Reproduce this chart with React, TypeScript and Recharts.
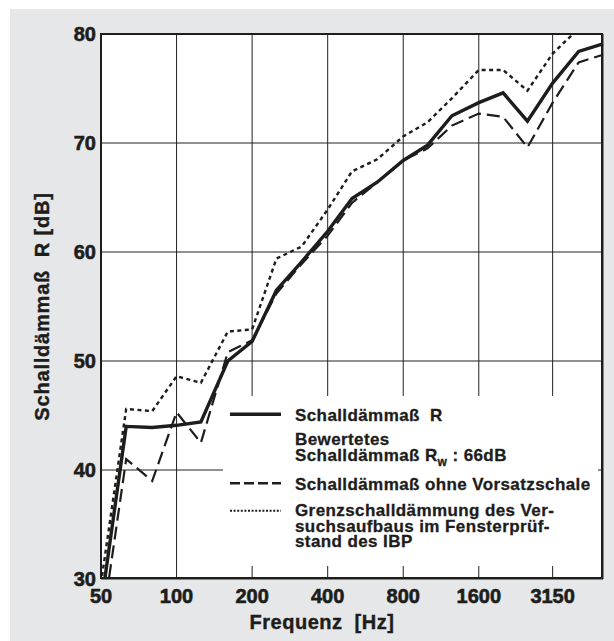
import React from 'react';
import {
  LineChart,
  Line,
  XAxis,
  YAxis,
  CartesianGrid
} from 'recharts';

// third-octave band centre frequencies
const freqs = [50, 63, 80, 100, 125, 160, 200, 250, 315, 400, 500, 630, 800, 1000, 1250, 1600, 2000, 2500, 3150, 4000, 5000];

// Schalldämmaß R (solid)
const schalldaemmass = [27.5, 44.0, 43.9, 44.1, 44.4, 50.0, 51.8, 56.5, 59.1, 61.9, 64.9, 66.4, 68.4, 69.8, 72.5, 73.7, 74.6, 72.0, 75.5, 78.4, 79.1];

// Schalldämmaß ohne Vorsatzschale (dashed)
const ohneVorsatzschale = [25.0, 41.0, 39.0, 45.3, 42.5, 50.8, 51.9, 56.2, 58.9, 61.5, 64.5, 66.4, 68.4, 69.5, 71.6, 72.7, 72.4, 69.6, 73.7, 77.4, 78.1];

// Grenzschalldämmung des Versuchsaufbaus (dotted)
const grenzschalldaemmung = [29.6, 45.6, 45.4, 48.6, 48.0, 52.7, 52.9, 59.4, 60.5, 63.9, 67.4, 68.5, 70.6, 71.9, 74.1, 76.7, 76.7, 74.8, 78.2, 80.5, 82.0];

const xTicks = [50, 100, 200, 400, 800, 1600, 3150];
const yTicks = [30, 40, 50, 60, 70, 80];

const data = freqs.map((f, i) => ({
  f,
  r: schalldaemmass[i],
  ohne: ohneVorsatzschale[i],
  grenz: grenzschalldaemmung[i]
}));

const FONT = '"Liberation Sans", Arial, Helvetica, sans-serif';
const INK = '#1d1d1b';

// heavy labels like the printed original
const tickStyle = { fontSize: 20, fontWeight: 'bold', fill: INK, stroke: INK, strokeWidth: 0.6, fontFamily: FONT };
const axisLabelStyle = { fontSize: 20, fontWeight: 'bold', fill: INK, stroke: INK, strokeWidth: 0.4, fontFamily: FONT };

const legendText: React.CSSProperties = {
  position: 'absolute',
  left: 72,
  fontSize: 17,
  fontWeight: 'bold',
  lineHeight: '15.8px',
  letterSpacing: 0.4,
  color: INK,
  whiteSpace: 'pre',
  fontFamily: FONT,
  WebkitTextStroke: '0.3px ' + INK
};

const ChartLegend = () => (
  <div
    style={{
      position: 'absolute',
      left: 223,
      top: 396,
      width: 375,
      height: 170,
      background: '#fff'
    }}
  >
    <svg width={60} height={130} style={{ position: 'absolute', left: 0, top: 0 }}>
      <line x1={7} x2={58} y1={18.3} y2={18.3} stroke={INK} strokeWidth={3.5} />
      <line x1={7} x2={58} y1={87.3} y2={87.3} stroke={INK} strokeWidth={2.4} strokeDasharray="10 4" />
      <line x1={7} x2={58} y1={114.7} y2={114.7} stroke={INK} strokeWidth={2} strokeDasharray="2 1.6" />
    </svg>
    <div style={{ ...legendText, top: 12.2 }}>Schalldämmaß  R</div>
    <div style={{ ...legendText, top: 36.2 }}>Bewertetes</div>
    <div style={{ ...legendText, top: 51.9 }}>
      Schalldämmaß R<span style={{ fontSize: 12, position: 'relative', top: 5 }}>w</span> : 66dB
    </div>
    <div style={{ ...legendText, top: 81.2 }}>Schalldämmaß ohne Vorsatzschale</div>
    <div style={{ ...legendText, top: 106.9 }}>
      {'Grenzschalldämmung des Ver-\nsuchsaufbaus im Fensterprüf-\nstand des IBP'}
    </div>
  </div>
);

const App = () => (
  <div style={{ position: 'absolute', left: 0, top: 0, width: 614, height: 641, background: '#fff' }}>
    <div style={{ position: 'absolute', left: 10, top: 9, width: 604, height: 632, background: '#e6e7e8' }} />
    <div style={{ position: 'absolute', left: 0, top: 0 }}>
      <LineChart
        width={614}
        height={641}
        data={data}
        margin={{ top: 34, right: 11, bottom: 12, left: 41 }}
      >
        <CartesianGrid stroke="#222" strokeWidth={1} fill="#fff" fillOpacity={1} />
        <XAxis
          dataKey="f"
          type="number"
          scale="log"
          domain={[50, 5000]}
          ticks={xTicks}
          interval={0}
          height={50}
          axisLine={false}
          tickLine={false}
          tickSize={0}
          tickMargin={9.5}
          tick={tickStyle}
          label={{
            value: 'Frequenz\u00A0 [Hz]',
            position: 'center',
            dx: -30,
            dy: 17.5,
            style: { ...axisLabelStyle, letterSpacing: 0.5 }
          }}
        />
        <YAxis
          type="number"
          domain={[30, 80]}
          ticks={yTicks}
          allowDataOverflow
          width={60}
          axisLine={false}
          tickLine={false}
          tickSize={0}
          tickMargin={5}
          tick={tickStyle}
          label={{
            value: 'Schalldämmaß\u00A0 R [dB]',
            angle: -90,
            position: 'center',
            dx: -29,
            style: { ...axisLabelStyle, letterSpacing: 0.8 }
          }}
        />
        <Line
          type="linear"
          dataKey="grenz"
          stroke={INK}
          strokeWidth={2.4}
          strokeDasharray="4 3.5"
          dot={false}
          activeDot={false}
          isAnimationActive={false}
        />
        <Line
          type="linear"
          dataKey="ohne"
          stroke={INK}
          strokeWidth={2.2}
          strokeDasharray="13 6"
          dot={false}
          activeDot={false}
          isAnimationActive={false}
        />
        <Line
          type="linear"
          dataKey="r"
          stroke={INK}
          strokeWidth={3.4}
          dot={false}
          activeDot={false}
          isAnimationActive={false}
        />
      </LineChart>
    </div>
    <ChartLegend />
    {/* plot frame */}
    <div
      style={{
        position: 'absolute',
        left: 99.7,
        top: 33,
        width: 503,
        height: 546,
        border: '2.6px solid ' + INK,
        boxSizing: 'border-box',
        pointerEvents: 'none'
      }}
    />
  </div>
);

export default App;
